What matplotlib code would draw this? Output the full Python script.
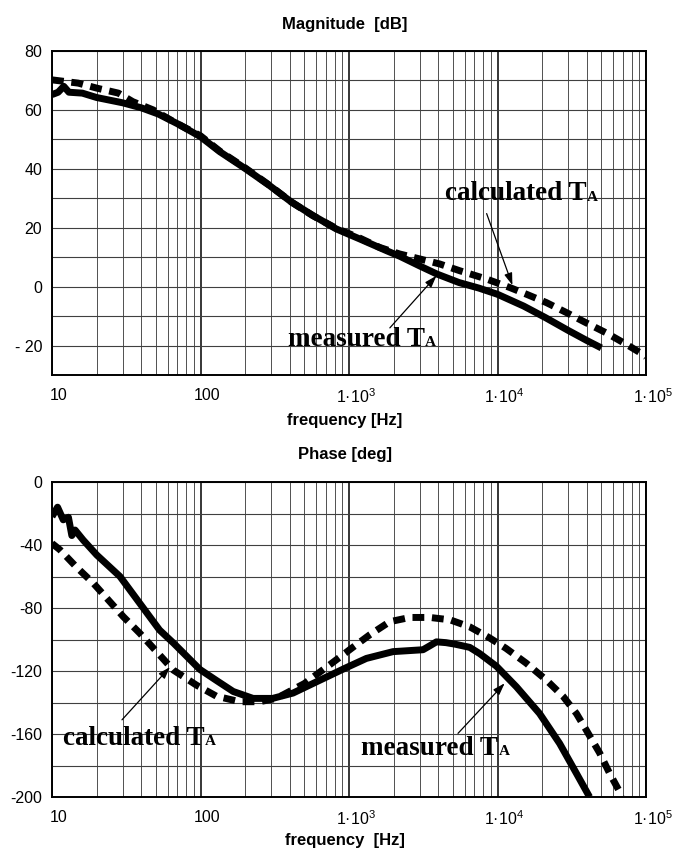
import numpy as np
import matplotlib
matplotlib.use("Agg")
import matplotlib.pyplot as plt
import matplotlib.transforms as mtransforms

plt.rcParams['font.family'] = ['Liberation Sans', 'DejaVu Sans']
plt.rcParams['mathtext.fontset'] = 'custom'
plt.rcParams['mathtext.rm'] = 'Liberation Sans'
plt.rcParams['mathtext.default'] = 'regular'

# ---- loop gain T_A : magnitude [dB] ----
mag_meas_f = [10, 11, 12, 13, 16, 20, 30, 40, 52, 70, 100, 135, 200, 290, 410,
              570, 820, 1180, 1790, 2200, 3000, 3900, 5500, 7500, 10000,
              15000, 21000, 30000, 40000, 50000]
mag_meas_db = [65.2, 66.0, 68.0, 66.0, 65.7, 64.2, 62.4, 60.7, 58.6, 55.3, 50.9,
               45.8, 40.1, 34.4, 28.7, 24.2, 19.6, 16.2, 12.2, 10.3, 7.0, 4.3,
               1.4, -0.5, -2.6, -6.6, -10.5, -14.9, -18.3, -20.8]

mag_calc_f = [10, 15, 20, 28, 35, 48, 66, 100, 135, 200, 290, 410, 570, 820,
              1180, 1610, 2190, 3000, 4080, 5570, 8420, 12100, 15700, 21300,
              29100, 39600, 54000, 73800, 95300, 100000]
mag_calc_db = [70.2, 69.1, 67.4, 65.7, 62.8, 60.0, 56.0, 51.2, 46.0, 40.3, 34.5,
               28.7, 24.1, 19.8, 16.5, 13.3, 11.1, 9.4, 7.7, 5.4, 2.6, -0.3,
               -2.6, -5.4, -8.8, -12.3, -15.7, -19.6, -23.0, -23.8]

# ---- loop gain T_A : phase [deg] ----
ph_meas_f = [10, 10.9, 11.9, 12.9, 13.6, 14.3, 16.2, 20, 28.7, 39, 53, 66, 99,
             128, 166, 226, 306, 420, 600, 937, 1310, 1980, 3150, 3500, 3880,
             4500, 5200, 6500, 7600, 9840, 13400, 19200, 26200, 34000, 41700]
ph_meas_deg = [-22, -16, -24, -22.4, -34, -30.5, -36.8, -46.3, -60, -77, -94,
               -102.4, -119, -126, -133, -137.4, -137.4, -134, -127, -118.3,
               -112, -107.7, -106.5, -104, -101.5, -102, -103, -105, -109,
               -117, -130, -147, -166, -185, -200]

ph_calc_f = [10, 11.3, 14.6, 19, 24, 30.2, 39, 50.6, 65.6, 94, 128, 184, 250,
             324, 500, 743, 1040, 1380, 1880, 2570, 3500, 4780, 6510, 8850,
             11400, 15600, 21300, 27600, 34000, 39600, 48700, 56900, 66400,
             68000]
ph_calc_deg = [-39, -43, -54, -64.3, -75, -85.5, -96, -107.7, -119.4, -129,
               -136, -139.5, -139.5, -137.4, -128, -116, -105.6, -97, -88.7,
               -86, -86, -87.5, -92, -99, -105.6, -115, -125.7, -136, -147,
               -157.5, -172, -185, -196.6, -200]

# ---- axis texts ----
x_ticks = [10, 100, 1e3, 1e4, 1e5]
x_tick_labels = ['10', '100', r'1·10$^{3}$', r'1·10$^{4}$', r'1·10$^{5}$']
mag_ticks = [80, 60, 40, 20, 0, -20]
mag_tick_labels = ['80', '60', '40', '20', '0', '- 20']
ph_ticks = [0, -40, -80, -120, -160, -200]
ph_tick_labels = ['0', '-40', '-80', '-120', '-160', '-200']

W, H = 676, 855
fig = plt.figure(figsize=(W / 100, H / 100), dpi=100)
ax1 = fig.add_axes([52 / W, (H - 375) / H, 594 / W, 324 / H])
ax2 = fig.add_axes([52 / W, (H - 797) / H, 594 / W, 315 / H])

minor_f = [m * 10.0 ** e for e in range(1, 5) for m in range(2, 10)]


def style_axes(ax, ylim, yticks, ylabels, yminor):
    ax.set_xscale('log')
    ax.set_xlim(10, 1e5)
    ax.set_ylim(*ylim)
    ax.set_xticks(x_ticks)
    ax.set_xticklabels(x_tick_labels)
    ax.set_xticks(minor_f, minor=True)
    ax.set_yticks(yticks)
    ax.set_yticklabels(ylabels)
    ax.set_yticks(yminor, minor=True)
    ax.tick_params(which='both', length=0)
    ax.tick_params(axis='x', pad=9, labelsize=11.5)
    ax.tick_params(axis='y', pad=7, labelsize=11.5)
    ax.grid(which='major', axis='x', color='black', lw=1.1)
    ax.grid(which='minor', axis='x', color='#505050', lw=0.7)
    ax.grid(which='both', axis='y', color='#404040', lw=0.8)
    ax.set_axisbelow(True)
    for sp in ax.spines.values():
        sp.set_linewidth(1.4)
        sp.set_color('black')
    shift = mtransforms.ScaledTranslation(7 / 100, 0, fig.dpi_scale_trans)
    for lab in ax.get_xticklabels():
        lab.set_transform(lab.get_transform() + shift)


style_axes(ax1, (-30, 80), mag_ticks, mag_tick_labels, np.arange(-30, 81, 10))
style_axes(ax2, (-200, 0), ph_ticks, ph_tick_labels, np.arange(-200, 1, 20))

solid_kw = dict(color='black', lw=5, solid_capstyle='butt', solid_joinstyle='round')
dash_kw = dict(color='black', lw=5, ls=(0, (1.7, 1.1)), dash_capstyle='butt')

ax1.plot(mag_meas_f, mag_meas_db, **solid_kw)
ax1.plot(mag_calc_f, mag_calc_db, **dash_kw)
ax2.plot(ph_meas_f, ph_meas_deg, **solid_kw)
ax2.plot(ph_calc_f, ph_calc_deg, **dash_kw)

serif = ['Liberation Serif', 'DejaVu Serif']


def curve_label(ax, word, xy_text, arrow_from, arrow_to):
    t = ax.text(xy_text[0], xy_text[1], word + ' T', fontsize=19.5,
                fontweight='bold', family=serif, ha='left', va='baseline')
    ax.annotate('A', xy=(1, 0), xycoords=t, xytext=(0.3, 4.2),
                textcoords='offset points', fontsize=11, fontweight='bold',
                family=serif, ha='left', va='baseline')
    ax.annotate('', xy=arrow_to, xytext=arrow_from,
                arrowprops=dict(arrowstyle='-|>,head_length=0.6,head_width=0.2',
                                color='black', lw=0.9, mutation_scale=12,
                                shrinkA=0, shrinkB=0))


curve_label(ax1, 'calculated', (4420, 29.3), (8450, 24.8), (12600, 0.5))
curve_label(ax1, 'measured', (387, -20.2), (1884, -14.0), (3880, 3.7))
curve_label(ax2, 'calculated', (11.86, -167), (29.6, -151), (62.3, -117.5))
curve_label(ax2, 'measured', (1213, -173.3), (5420, -159.6), (11170, -127.8))

title_kw = dict(fontsize=12, fontweight='bold', ha='center', va='center',
                family=['Liberation Sans Narrow', 'Liberation Sans'])
fig.text(345 / W, 1 - 24 / H, 'Magnitude  [dB]', **title_kw)
fig.text(345 / W, 1 - 420 / H, 'frequency [Hz]', **title_kw)
fig.text(345 / W, 1 - 454 / H, 'Phase [deg]', **title_kw)
fig.text(345 / W, 1 - 840 / H, 'frequency  [Hz]', **title_kw)

fig.savefig('out.png', dpi=100)
